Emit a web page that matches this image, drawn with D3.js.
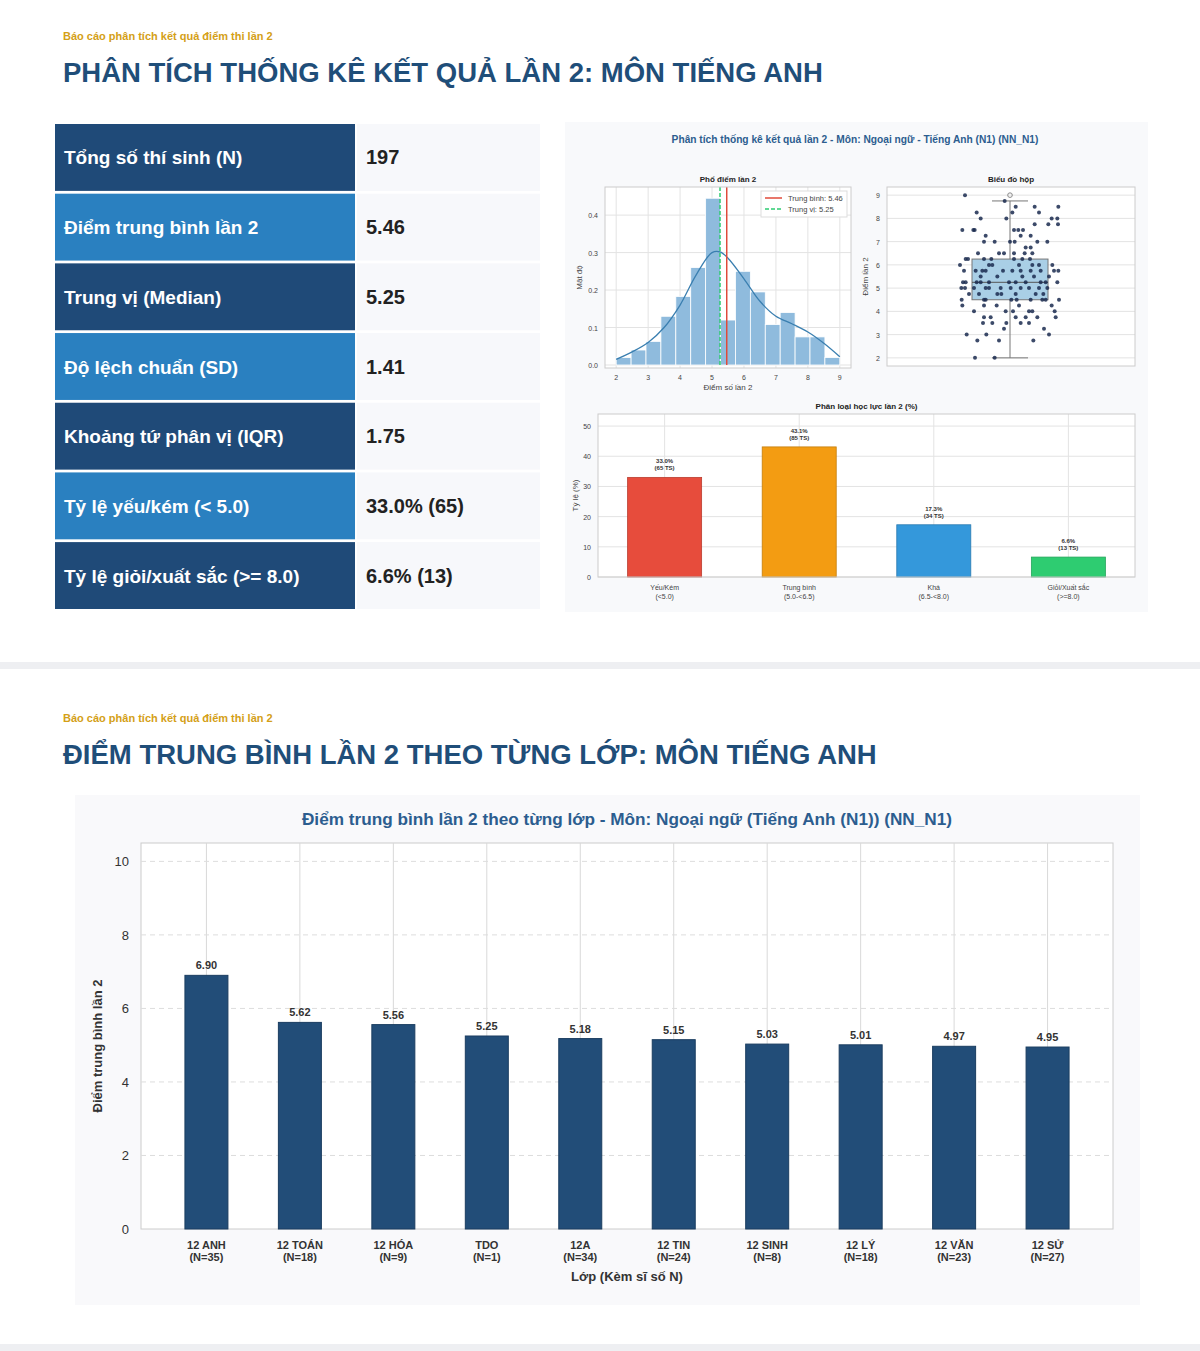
<!DOCTYPE html>
<html><head><meta charset="utf-8">
<script src="https://cdn.jsdelivr.net/npm/d3@7"></script>
<style>
body{margin:0;background:#fff;font-family:"Liberation Sans",Arial,sans-serif;}
svg text{font-family:"Liberation Sans",Arial,sans-serif;}
</style></head>
<body><svg id="chart" width="1200" height="1351"></svg>
<script>
// summary table
const statLabels = ["Tổng số thí sinh (N)", "Điểm trung bình lần 2", "Trung vị (Median)", "Độ lệch chuẩn (SD)", "Khoảng tứ phân vị (IQR)", "Tỷ lệ yếu/kém (< 5.0)", "Tỷ lệ giỏi/xuất sắc (>= 8.0)"];
const statValues = ["197", "5.46", "5.25", "1.41", "1.75", "33.0% (65)", "6.6% (13)"];

// histogram (density), bins from 2 to 9
const histDensity = [0.02, 0.04, 0.063, 0.13, 0.183, 0.26, 0.445, 0.12, 0.25, 0.195, 0.108, 0.14, 0.075, 0.075, 0.02];
const kdeX = [2, 2.5, 3, 3.5, 4, 4.5, 5, 5.25, 5.5, 6, 6.5, 7, 7.5, 8, 8.5, 9];
const kdeY = [0.015, 0.035, 0.06, 0.1, 0.16, 0.24, 0.3, 0.302, 0.285, 0.23, 0.17, 0.13, 0.11, 0.088, 0.058, 0.022];
const meanScore = 5.46, medianScore = 5.25;

// box plot
const boxStats = {low: 2, q1: 4.5, med: 5.25, q3: 6.25, high: 8.75};
const outliers = [9];
const jitterPoints = [
  [9, [-135]], [8.75, [-16]], [8.5, [17, 74, 145]], [8.25, [-100, 7, 87]], [8, [-88, -11, 125, 142]],
  [7.75, [74, 115, 144]], [7.5, [-143, -110, -106, 12, 25, 39]], [7.25, [-73, 32, 62]],
  [7, [-78, -46, 0, 14, 82, 112]], [6.75, [47, 62]], [6.5, [-96, -33, -18, 12, 44, 67]],
  [6.25, [-133, -126, -78, -56, 12, 37, 60]], [6, [-150, -63, -53, 27, 67, 87, 127]],
  [5.75, [-138, -103, -83, -73, -21, 7, 32, 62, 92, 132, 145]], [5.5, [-88, -38, 37, 72, 117]],
  [5.25, [-141, -133, -100, -88, -63, -3, 17, 47, 92, 107, 142]],
  [5, [-146, -135, -108, -73, -63, -28, 2, 32, 57, 87, 112]],
  [4.75, [-123, -93, -38, -26, 17, 77, 100]], [4.5, [-145, -78, -73, 4, 20, 62, 97, 107, 147]],
  [4.25, [-143, -78, -40, 27, 125]], [4, [-108, -13, 9, 57, 67, 134]],
  [3.75, [-78, -58, 17, 47, 82, 137]], [3.5, [-81, -53, -11, 32, 57]], [3.25, [-18, 102]],
  [3, [-130, -71, 117]], [2.75, [-98, -33, 70]], [2, [-105, -46]]
];

// classification bars
const levelNames = [["Yếu/Kém", "(<5.0)"], ["Trung bình", "(5.0-<6.5)"], ["Khá", "(6.5-<8.0)"], ["Giỏi/Xuất sắc", "(>=8.0)"]];
const levelPct = [33.0, 43.1, 17.3, 6.6];
const levelCount = [65, 85, 34, 13];
const levelColors = ["#e74c3c", "#f39c12", "#3498db", "#2ecc71"];

// class averages
const classNames = ["12 ANH", "12 TOÁN", "12 HÓA", "TDO", "12A", "12 TIN", "12 SINH", "12 LÝ", "12 VĂN", "12 SỬ"];
const classN = [35, 18, 9, 1, 34, 24, 8, 18, 23, 27];
const classMeans = [6.90, 5.62, 5.56, 5.25, 5.18, 5.15, 5.03, 5.01, 4.97, 4.95];

const svg = d3.select("#chart");
const navy = "#1f4e79", gold = "#d4a017", gridC = "#d9d9d9";

// separators
svg.append("rect").attr("x", 0).attr("y", 662).attr("width", 1200).attr("height", 7).attr("fill", "#eeeff2");
svg.append("rect").attr("x", 0).attr("y", 1344).attr("width", 1200).attr("height", 7).attr("fill", "#eeeff2");

function header(y, title) {
  svg.append("text").attr("x", 63).attr("y", y).attr("font-size", 11).attr("font-weight", "bold").attr("fill", gold)
    .text("Báo cáo phân tích kết quả điểm thi lần 2");
  svg.append("text").attr("x", 63).attr("y", y + 42).attr("font-size", 27.5).attr("font-weight", "bold").attr("fill", navy)
    .text(title);
}
header(40, "PHÂN TÍCH THỐNG KÊ KẾT QUẢ LẦN 2: MÔN TIẾNG ANH");
header(722, "ĐIỂM TRUNG BÌNH LẦN 2 THEO TỪNG LỚP: MÔN TIẾNG ANH");

// table
const rowY = d3.scaleBand().domain(d3.range(statLabels.length)).range([124, 609]).paddingInner(0.04);
const rows = svg.append("g").selectAll("g").data(statLabels).join("g");
rows.append("rect").attr("x", 55).attr("y", (d, i) => rowY(i)).attr("width", 300).attr("height", rowY.bandwidth())
  .attr("fill", (d, i) => i % 2 ? "#2a80c0" : "#1f4a78");
rows.append("rect").attr("x", 357).attr("y", (d, i) => rowY(i)).attr("width", 183).attr("height", rowY.bandwidth()).attr("fill", "#f7f8fb");
rows.append("text").attr("x", 64).attr("y", (d, i) => rowY(i) + rowY.bandwidth() / 2 + 7).attr("font-size", 19).attr("font-weight", "bold")
  .attr("fill", "#fff").text(d => d);
rows.append("text").attr("x", 366).attr("y", (d, i) => rowY(i) + rowY.bandwidth() / 2 + 7).attr("font-size", 20).attr("font-weight", "bold")
  .attr("fill", "#222").text((d, i) => statValues[i]);

// right panel
svg.append("rect").attr("x", 565).attr("y", 122).attr("width", 583).attr("height", 490).attr("fill", "#f8f9fb");
svg.append("text").attr("x", 855).attr("y", 143).attr("text-anchor", "middle").attr("font-size", 10.2).attr("font-weight", "bold")
  .attr("fill", "#2c5d8f").text("Phân tích thống kê kết quả lần 2 - Môn: Ngoại ngữ - Tiếng Anh (N1) (NN_N1)");

function frame(g, x0, x1, y0, y1, title) {
  g.append("rect").attr("x", x0).attr("y", y0).attr("width", x1 - x0).attr("height", y1 - y0).attr("fill", "#fff");
  g.append("text").attr("x", (x0 + x1) / 2).attr("y", y0 - 5).attr("text-anchor", "middle").attr("font-size", 8)
    .attr("font-weight", "bold").attr("fill", "#222").text(title);
}
function smallAxes(g, xs, ys, x0, x1, y0, y1, xt, yt, xfmt, yfmt) {
  g.append("g").selectAll("line").data(xt).join("line").attr("x1", xs).attr("x2", xs).attr("y1", y0).attr("y2", y1).attr("stroke", "#e3e3e3");
  g.append("g").selectAll("line").data(yt).join("line").attr("y1", ys).attr("y2", ys).attr("x1", x0).attr("x2", x1).attr("stroke", "#e3e3e3");
  if (xfmt) g.append("g").selectAll("text").data(xt).join("text").attr("x", xs).attr("y", y1 + 12).attr("text-anchor", "middle")
    .attr("font-size", 7).attr("fill", "#444").text(xfmt);
  g.append("g").selectAll("text").data(yt).join("text").attr("x", x0 - 7).attr("y", d => ys(d) + 3).attr("text-anchor", "end")
    .attr("font-size", 7).attr("fill", "#444").text(yfmt);
}
function outline(g, x0, x1, y0, y1) {
  g.append("rect").attr("x", x0).attr("y", y0).attr("width", x1 - x0).attr("height", y1 - y0).attr("fill", "none").attr("stroke", "#ccc");
}

// histogram
{
  const g = svg.append("g");
  const x0 = 605, x1 = 851, y0 = 187, y1 = 368;
  frame(g, x0, x1, y0, y1, "Phổ điểm lần 2");
  const x = d3.scaleLinear().domain([1.65, 9.35]).range([x0, x1]);
  const y = d3.scaleLinear().domain([0, 0.475]).range([y1 - 3, y0]);
  smallAxes(g, x, y, x0, x1, y0, y1, d3.range(2, 10), [0, 0.1, 0.2, 0.3, 0.4], d => d, d => d.toFixed(1));
  const bw = 7 / histDensity.length;
  g.append("g").selectAll("rect").data(histDensity).join("rect")
    .attr("x", (d, i) => x(2 + i * bw)).attr("width", x(2 + bw) - x(2))
    .attr("y", d => y(d)).attr("height", d => y(0) - y(d))
    .attr("fill", "#8fbbdd").attr("stroke", "#fff").attr("stroke-width", 0.8);
  g.append("path").datum(kdeX).attr("fill", "none").attr("stroke", "#3a7fb0").attr("stroke-width", 1.3)
    .attr("d", d3.line().x(d => x(d)).y((d, i) => y(kdeY[i])).curve(d3.curveCatmullRom));
  g.append("line").attr("x1", x(meanScore)).attr("x2", x(meanScore)).attr("y1", y0).attr("y2", y(0)).attr("stroke", "#e04a3a").attr("stroke-width", 1.5);
  g.append("line").attr("x1", x(medianScore)).attr("x2", x(medianScore)).attr("y1", y0).attr("y2", y(0)).attr("stroke", "#2ecc71")
    .attr("stroke-width", 1.5).attr("stroke-dasharray", "4,2");
  g.append("rect").attr("x", 761).attr("y", 191).attr("width", 86).attr("height", 26).attr("fill", "#fff").attr("stroke", "#ddd");
  const lg = [["Trung bình: " + meanScore.toFixed(2), "#e04a3a", null], ["Trung vị: " + medianScore.toFixed(2), "#2ecc71", "4,2"]];
  lg.forEach((l, i) => {
    g.append("line").attr("x1", 765).attr("x2", 782).attr("y1", 198 + i * 11).attr("y2", 198 + i * 11).attr("stroke", l[1]).attr("stroke-width", 1.5).attr("stroke-dasharray", l[2]);
    g.append("text").attr("x", 788).attr("y", 201 + i * 11).attr("font-size", 7.5).attr("fill", "#444").text(l[0]);
  });
  outline(g, x0, x1, y0, y1);
  g.append("text").attr("x", (x0 + x1) / 2).attr("y", 390).attr("text-anchor", "middle").attr("font-size", 8).attr("fill", "#444").text("Điểm số lần 2");
  g.append("text").attr("transform", `translate(582,${(y0 + y1) / 2}) rotate(-90)`).attr("text-anchor", "middle").attr("font-size", 8).attr("fill", "#444").text("Mật độ");
}

// box plot
{
  const g = svg.append("g");
  const x0 = 887, x1 = 1135, y0 = 187, y1 = 366;
  frame(g, x0, x1, y0, y1, "Biểu đồ hộp");
  const y = d3.scaleLinear().domain([1.65, 9.35]).range([y1, y0]);
  const cx = 1010;
  const jx = d3.scaleLinear().domain([-150, 150]).range([cx - 50, cx + 50]);
  smallAxes(g, null, y, x0, x1, y0, y1, [], d3.range(2, 10), null, d => d);
  g.append("line").attr("x1", cx).attr("x2", cx).attr("y1", y(boxStats.low)).attr("y2", y(boxStats.high)).attr("stroke", "#777");
  [boxStats.low, boxStats.high].forEach(v => g.append("line").attr("x1", cx - 18).attr("x2", cx + 18).attr("y1", y(v)).attr("y2", y(v)).attr("stroke", "#777"));
  g.append("rect").attr("x", cx - 38).attr("width", 76).attr("y", y(boxStats.q3)).attr("height", y(boxStats.q1) - y(boxStats.q3))
    .attr("fill", "#a9cfe6").attr("stroke", "#777");
  g.append("line").attr("x1", cx - 38).attr("x2", cx + 38).attr("y1", y(boxStats.med)).attr("y2", y(boxStats.med)).attr("stroke", "#555");
  g.selectAll(".out").data(outliers).join("circle").attr("cx", cx).attr("cy", d => y(d)).attr("r", 2.3).attr("fill", "none").attr("stroke", "#888");
  const pts = jitterPoints.flatMap(([s, xs]) => xs.map(o => [s, o]));
  g.append("g").selectAll("circle").data(pts).join("circle").attr("cx", d => jx(d[1])).attr("cy", d => y(d[0])).attr("r", 2)
    .attr("fill", "#1a2a4f").attr("opacity", 0.85);
  outline(g, x0, x1, y0, y1);
  g.append("text").attr("transform", `translate(868,${(y0 + y1) / 2}) rotate(-90)`).attr("text-anchor", "middle").attr("font-size", 8).attr("fill", "#444").text("Điểm lần 2");
}

// level bars
{
  const g = svg.append("g");
  const x0 = 598, x1 = 1135, y0 = 414, y1 = 577;
  frame(g, x0, x1, y0, y1, "Phân loại học lực lần 2 (%)");
  const x = d3.scaleBand().domain(d3.range(4)).range([x0, x1]).paddingInner(0.45).paddingOuter(0.22);
  const y = d3.scaleLinear().domain([0, 54]).range([y1, y0]);
  smallAxes(g, i => x(i) + x.bandwidth() / 2, y, x0, x1, y0, y1, d3.range(4), d3.range(0, 51, 10), null, d => d);
  g.append("g").selectAll("rect").data(levelPct).join("rect").attr("x", (d, i) => x(i)).attr("width", x.bandwidth())
    .attr("y", d => y(d)).attr("height", d => y(0) - y(d)).attr("fill", (d, i) => levelColors[i])
    .attr("stroke", (d, i) => d3.color(levelColors[i]).darker(0.6)).attr("stroke-width", 0.8);
  levelPct.forEach((p, i) => {
    const t = g.append("text").attr("x", x(i) + x.bandwidth() / 2).attr("y", y(p) - 14).attr("text-anchor", "middle")
      .attr("font-size", 6).attr("font-weight", "bold").attr("fill", "#333");
    t.append("tspan").attr("x", x(i) + x.bandwidth() / 2).text(p.toFixed(1) + "%");
    t.append("tspan").attr("x", x(i) + x.bandwidth() / 2).attr("dy", 7).text("(" + levelCount[i] + " TS)");
    levelNames[i].forEach((l, k) => g.append("text").attr("x", x(i) + x.bandwidth() / 2).attr("y", 590 + k * 9)
      .attr("text-anchor", "middle").attr("font-size", 7).attr("fill", "#444").text(l));
  });
  outline(g, x0, x1, y0, y1);
  g.append("text").attr("transform", `translate(578,${(y0 + y1) / 2}) rotate(-90)`).attr("text-anchor", "middle").attr("font-size", 8).attr("fill", "#444").text("Tỷ lệ (%)");
}

// class averages chart
{
  const g = svg.append("g");
  g.append("rect").attr("x", 75).attr("y", 795).attr("width", 1065).attr("height", 510).attr("fill", "#f9f9fb");
  const x0 = 141, x1 = 1113, y0 = 843, y1 = 1229;
  g.append("rect").attr("x", x0).attr("y", y0).attr("width", x1 - x0).attr("height", y1 - y0).attr("fill", "#fff").attr("stroke", "#ccc");
  g.append("text").attr("x", 627).attr("y", 825).attr("text-anchor", "middle").attr("font-size", 17.2).attr("font-weight", "bold")
    .attr("fill", "#2c5d8f").text("Điểm trung bình lần 2 theo từng lớp - Môn: Ngoại ngữ (Tiếng Anh (N1)) (NN_N1)");
  const x = d3.scaleBand().domain(classNames).range([x0, x1]).paddingInner(0.54).paddingOuter(0.47);
  const y = d3.scaleLinear().domain([0, 10.5]).range([y1, y0]);
  g.append("g").selectAll("line").data(classNames).join("line").attr("x1", d => x(d) + x.bandwidth() / 2).attr("x2", d => x(d) + x.bandwidth() / 2)
    .attr("y1", y0).attr("y2", y1).attr("stroke", gridC);
  g.append("g").selectAll("line").data(d3.range(2, 11, 2)).join("line").attr("x1", x0).attr("x2", x1).attr("y1", y).attr("y2", y)
    .attr("stroke", "#ddd").attr("stroke-dasharray", "5,4");
  g.append("g").attr("transform", `translate(${x0},0)`).call(d3.axisLeft(y).tickValues(d3.range(0, 11, 2)).tickSize(0).tickPadding(12))
    .call(a => a.select(".domain").remove()).selectAll("text").attr("font-size", 13).attr("fill", "#333");
  g.append("g").selectAll("rect").data(classMeans).join("rect").attr("x", (d, i) => x(classNames[i])).attr("width", x.bandwidth())
    .attr("y", d => y(d)).attr("height", d => y(0) - y(d)).attr("fill", "#224d78").attr("stroke", "#1a3d60");
  g.append("g").selectAll("text").data(classMeans).join("text").attr("x", (d, i) => x(classNames[i]) + x.bandwidth() / 2)
    .attr("y", d => y(d) - 6).attr("text-anchor", "middle").attr("font-size", 11).attr("font-weight", "bold").attr("fill", "#333")
    .text(d => d.toFixed(2));
  classNames.forEach((c, i) => {
    const cx = x(c) + x.bandwidth() / 2;
    g.append("text").attr("x", cx).attr("y", 1249).attr("text-anchor", "middle").attr("font-size", 11).attr("font-weight", "bold").attr("fill", "#333").text(c);
    g.append("text").attr("x", cx).attr("y", 1261).attr("text-anchor", "middle").attr("font-size", 11).attr("font-weight", "bold").attr("fill", "#333").text("(N=" + classN[i] + ")");
  });
  g.append("text").attr("x", 627).attr("y", 1281).attr("text-anchor", "middle").attr("font-size", 13).attr("font-weight", "bold").attr("fill", "#333").text("Lớp (Kèm sĩ số N)");
  g.append("text").attr("transform", `translate(102,${(y0 + y1) / 2 + 10}) rotate(-90)`).attr("text-anchor", "middle").attr("font-size", 13)
    .attr("font-weight", "bold").attr("fill", "#333").text("Điểm trung bình lần 2");
}
</script></body></html>
